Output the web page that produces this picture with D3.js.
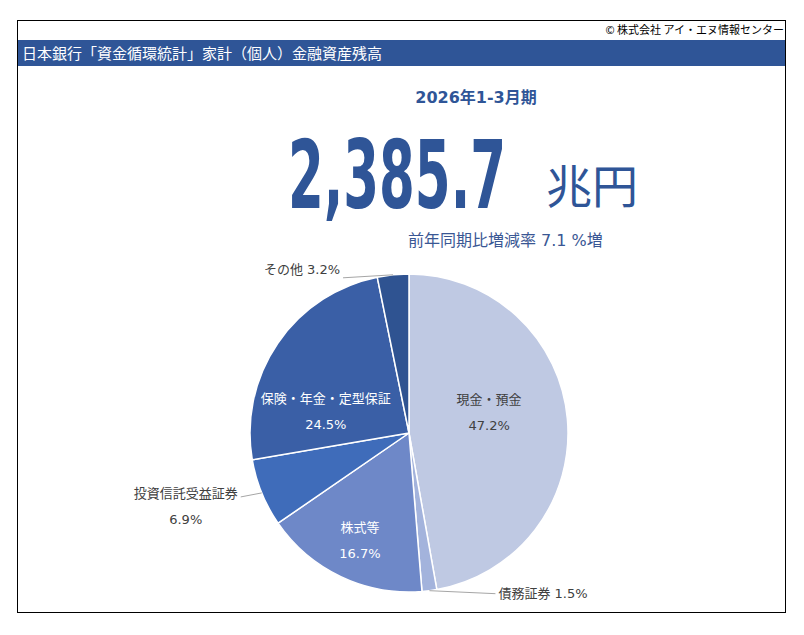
<!DOCTYPE html>
<html>
<head>
  <meta charset="utf-8">
  <style>
    body { margin: 0; background: #fff; font-family: "DejaVu Sans", "Noto Sans CJK JP", sans-serif; }
  </style>
</head>
<body>
  <svg id="chart"></svg>
  <script src="https://cdn.jsdelivr.net/npm/d3@7"></script>
  <script>
    // データ
    var categories = ["現金・預金", "債務証券", "株式等", "投資信託受益証券", "保険・年金・定型保証", "その他"];
    var shares = [47.2, 1.5, 16.7, 6.9, 24.5, 3.2];
    var colors = ["#BFC9E3", "#A3B3DC", "#6E88C8", "#3F6CBA", "#3A5FA6", "#2F5391"];
    var titleText = "日本銀行「資金循環統計」家計（個人）金融資産残高";
    var periodText = "2026年1-3月期";
    var totalValue = 2385.7;
    var unitText = "兆円";
    var changeText = "前年同期比増減率 7.1 %増";
    var creditText = "© 株式会社 アイ・エヌ情報センター";

    var width = 804, height = 635;
    var blue = "#2F5597";
    var jp = "'Noto Sans CJK JP', sans-serif";

    var svg = d3.select("#chart").attr("width", width).attr("height", height);

    // 外枠
    svg.append("rect")
      .attr("x", 17.5).attr("y", 20.5)
      .attr("width", 768).attr("height", 592)
      .attr("fill", "none").attr("stroke", "#000").attr("stroke-width", 1);

    svg.append("text")
      .attr("x", 784).attr("y", 34)
      .attr("text-anchor", "end")
      .attr("font-family", jp)
      .attr("font-size", "11px")
      .attr("fill", "#000")
      .text(creditText);

    // タイトル帯
    svg.append("rect")
      .attr("x", 18).attr("y", 40)
      .attr("width", 767).attr("height", 26)
      .attr("fill", blue);
    svg.append("text")
      .attr("x", 22).attr("y", 58.5)
      .attr("font-family", jp)
      .attr("font-size", "15px")
      .attr("fill", "#fff")
      .text(titleText);

    svg.append("text")
      .attr("x", 476).attr("y", 103)
      .attr("text-anchor", "middle")
      .attr("font-size", "16px")
      .attr("font-weight", "bold")
      .attr("fill", blue)
      .text(periodText);

    // 大きな数字（横方向に縮めて幅を合わせる）
    var big = svg.append("text")
      .attr("font-family", "'DejaVu Sans Condensed', 'DejaVu Sans', sans-serif")
      .attr("font-weight", "bold")
      .attr("font-size", "95px")
      .attr("fill", blue)
      .text(d3.format(",.1f")(totalValue));
    var bigW = big.node().getComputedTextLength();
    big.attr("transform", "translate(288,208) scale(" + (218 / bigW) + ",1)");

    svg.append("text")
      .attr("x", 546).attr("y", 203)
      .attr("font-family", jp)
      .attr("font-size", "46px")
      .attr("fill", blue)
      .text(unitText);

    svg.append("text")
      .attr("x", 408).attr("y", 246)
      .attr("font-size", "16px")
      .attr("fill", "#3A5794")
      .text(changeText);

    // 円グラフ
    var cx = 409, cy = 433, r = 159;
    var data = categories.map(function (c, i) {
      return { name: c, value: shares[i], color: colors[i] };
    });
    var pie = d3.pie().sort(null).value(function (d) { return d.value; });
    var arcs = pie(data);
    var arc = d3.arc().innerRadius(0).outerRadius(r);

    var g = svg.append("g").attr("transform", "translate(" + cx + "," + cy + ")");
    g.selectAll("path")
      .data(arcs)
      .join("path")
      .attr("d", arc)
      .attr("fill", function (d) { return d.data.color; })
      .attr("stroke", "#fff")
      .attr("stroke-width", 1.5)
      .attr("stroke-linejoin", "round");

    var fmt = function (v) { return d3.format(".1f")(v) + "%"; };

    // 内側ラベル（中心からの半径比と微調整）
    var inside = {
      "現金・預金": { k: 0.55, dx: -7, dy: -13, fill: "#404040" },
      "株式等": { k: 0.75, dx: 2, dy: 0, fill: "#fff" },
      "保険・年金・定型保証": { k: 0.55, dx: -11, dy: 28, fill: "#fff" }
    };
    arcs.forEach(function (d) {
      var lay = inside[d.data.name];
      if (!lay) return;
      var c = d3.arc().innerRadius(r * lay.k).outerRadius(r * lay.k).centroid(d);
      var x = c[0] + lay.dx, y = c[1] + lay.dy;
      var t = g.append("text")
        .attr("text-anchor", "middle")
        .attr("font-size", "13px")
        .attr("fill", lay.fill);
      t.append("tspan").attr("x", x).attr("y", y - 13 + 4.5).text(d.data.name);
      t.append("tspan").attr("x", x).attr("y", y + 13 + 4.5).text(fmt(d.data.value));
    });

    // 外側ラベル（引き出し線）
    var outside = {
      "債務証券": { dx: 66, dy: 3, side: 1, oneLine: true, ty: 0 },
      "投資信託受益証券": { dx: -21, dy: 4, side: -1, oneLine: false, ty: -3 },
      "その他": { dx: -50, dy: 3, side: -1, oneLine: true, ty: -8 }
    };
    var edge = d3.arc().innerRadius(r).outerRadius(r);
    arcs.forEach(function (d) {
      var lay = outside[d.data.name];
      if (!lay) return;
      var p = edge.centroid(d);
      var e = [p[0] + lay.dx, p[1] + lay.dy];
      g.append("path")
        .attr("d", "M" + p[0] + "," + p[1] + "L" + e[0] + "," + e[1])
        .attr("fill", "none")
        .attr("stroke", "#A6A6A6")
        .attr("stroke-width", 1);
      var tx = e[0] + lay.side * 3, ty = e[1] + lay.ty;
      if (lay.oneLine) {
        g.append("text")
          .attr("x", tx).attr("y", ty + 4.5)
          .attr("text-anchor", lay.side > 0 ? "start" : "end")
          .attr("font-size", "13px")
          .attr("fill", "#404040")
          .text(d.data.name + " " + fmt(d.data.value));
      } else {
        var lbl = g.append("text")
          .attr("x", tx).attr("y", ty + 4.5)
          .attr("text-anchor", "end")
          .attr("font-size", "13px")
          .attr("fill", "#404040")
          .text(d.data.name);
        var w = lbl.node().getComputedTextLength();
        g.append("text")
          .attr("x", tx - w / 2).attr("y", ty + 26 + 4.5)
          .attr("text-anchor", "middle")
          .attr("font-size", "13px")
          .attr("fill", "#404040")
          .text(fmt(d.data.value));
      }
    });
  </script>
</body>
</html>
